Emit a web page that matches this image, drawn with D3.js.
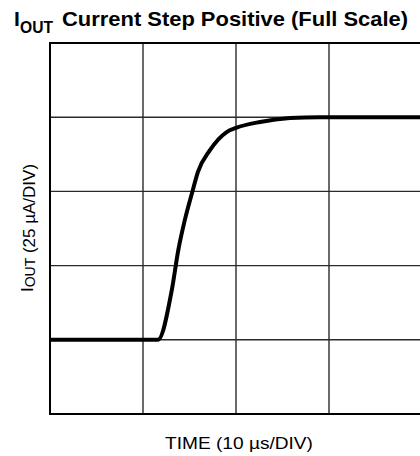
<!DOCTYPE html>
<meta charset="utf-8">
<script src="https://d3js.org/d3.v7.min.js"></script>
<style>
  body { margin: 0; background: #fff; }
  text { font-family: "Liberation Sans", Arial, Helvetica, sans-serif; fill: #000; }
</style>
<svg id="chart" width="420" height="456"></svg>
<script>
// time in microseconds, current in microamps
var timeUs    = [0, 11.6, 13.1, 13.8, 14.5, 15.3, 15.9, 17.2, 19.0, 20.0, 22.6, 25.8, 29.0, 40];
var currentUa = [25, 25, 41.8, 55.3, 65.4, 74.8, 81.5, 88.9, 95.0, 96.4, 98.4, 99.7, 100, 100];
var xDivs = [0, 10, 20, 30, 40];
var yDivs = [0, 25, 50, 75, 100, 125];

var svg = d3.select("#chart");

var x = d3.scaleLinear().domain([0, 40]).range([50, 422]);
var y = d3.scaleLinear().domain([0, 125]).range([414, 43]);

// grid
var grid = svg.append("g");
grid.selectAll(".vg")
  .data(xDivs.slice(1))
  .enter().append("line")
    .attr("x1", function(d){ return x(d); })
    .attr("x2", function(d){ return x(d); })
    .attr("y1", y(0)).attr("y2", y(125))
    .style("stroke", "#2a2a2a")
    .style("stroke-width", 1.4);
grid.selectAll(".hg")
  .data(yDivs.slice(1, -1))
  .enter().append("line")
    .attr("x1", x(0)).attr("x2", x(40))
    .attr("y1", function(d){ return y(d); })
    .attr("y2", function(d){ return y(d); })
    .style("stroke", "#2a2a2a")
    .style("stroke-width", 1.4);

// frame
svg.append("rect")
  .attr("x", x(0)).attr("y", y(125))
  .attr("width", x(40) - x(0)).attr("height", y(0) - y(125))
  .style("fill", "none")
  .style("stroke", "#000")
  .style("stroke-width", 2);

// trace
var pts = timeUs.map(function(t, i){ return [t, currentUa[i]]; });
var line = d3.line()
  .x(function(d){ return x(d[0]); })
  .y(function(d){ return y(d[1]); })
  .curve(d3.curveMonotoneX);

svg.append("path")
  .datum(pts)
  .attr("d", line)
  .style("fill", "none")
  .style("stroke", "#000")
  .style("stroke-width", 4)
  .style("stroke-linejoin", "round");

// title
svg.append("text").attr("x", 14).attr("y", 26)
  .style("font-weight", "bold").style("font-size", "21px").text("I");
svg.append("text").attr("x", 20).attr("y", 33)
  .style("font-weight", "bold").style("font-size", "16px")
  .attr("textLength", 33).attr("lengthAdjust", "spacingAndGlyphs").text("OUT");
svg.append("text").attr("x", 62).attr("y", 26)
  .style("font-weight", "bold").style("font-size", "21px")
  .attr("textLength", 346).attr("lengthAdjust", "spacingAndGlyphs")
  .text("Current Step Positive (Full Scale)");

// x label
svg.append("text").attr("x", 165).attr("y", 449)
  .style("font-size", "17px")
  .attr("textLength", 148).attr("lengthAdjust", "spacingAndGlyphs")
  .text("TIME (10 \u00b5s/DIV)");

// y label
var yl = svg.append("text")
  .attr("transform", "translate(35,228) rotate(-90)")
  .attr("text-anchor", "middle")
  .style("font-size", "17px");
yl.append("tspan").attr("dy", -2).text("I");
yl.append("tspan").attr("dy", 2).style("font-size", "14px").text("OUT");
yl.append("tspan").text(" (25 \u00b5A/DIV)");
</script>
